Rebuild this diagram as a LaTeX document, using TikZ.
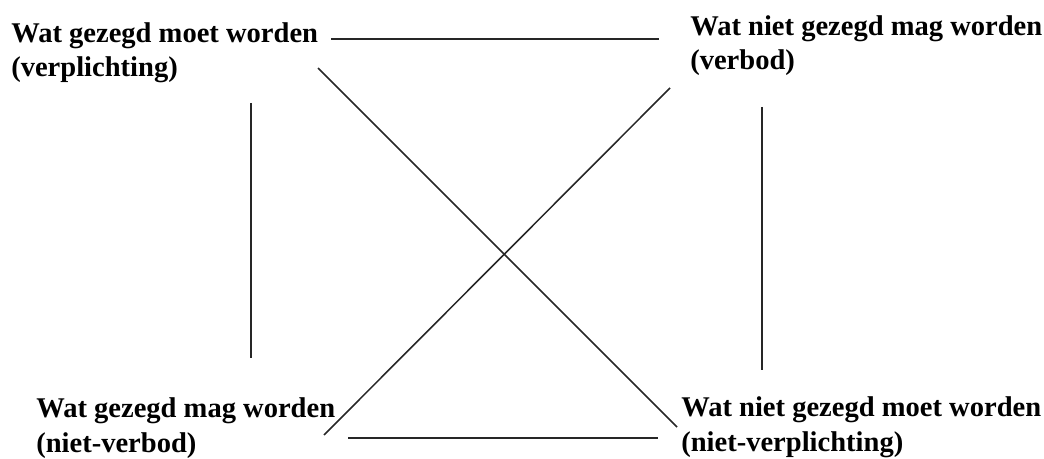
\documentclass[tikz,border=0pt]{standalone}
\usepackage{fontspec}
\setmainfont{Liberation Serif}
\begin{document}
\begin{tikzpicture}[
  x=0.025cm, y=-0.025cm,
  every node/.style={font=\fontsize{20.3}{24.5}\selectfont\bfseries,align=left,inner sep=0pt,anchor=base west},
  link/.style={line width=1.1pt,draw=black!85}
]
\useasboundingbox (0,0) rectangle (1044,459);
\node (verpl)  at (11,77)  {Wat gezegd moet worden\\(verplichting)};
\node (verbod) at (690,70) {Wat niet gezegd mag worden\\(verbod)};
\node (nverb)  at (36,452) {Wat gezegd mag worden\\(niet-verbod)};
\node (nverpl) at (681,451) {Wat niet gezegd moet worden\\(niet-verplichting)};
\coordinate (topL) at (331,39);  \coordinate (topR) at (659,39);
\coordinate (lftT) at (251,103); \coordinate (lftB) at (251,358);
\coordinate (rgtT) at (762,107); \coordinate (rgtB) at (762,370);
\coordinate (botL) at (348,438); \coordinate (botR) at (658,438);
\coordinate (dgaT) at (318,68);  \coordinate (dgaB) at (677,427);
\coordinate (dgbB) at (324,435); \coordinate (dgbT) at (670,88);
\draw[link] (topL) -- (topR);
\draw[link] (lftT) -- (lftB);
\draw[link] (rgtT) -- (rgtB);
\draw[link] (botL) -- (botR);
\draw[link] (dgaT) -- (dgaB);
\draw[link] (dgbB) -- (dgbT);
\end{tikzpicture}
\end{document}
